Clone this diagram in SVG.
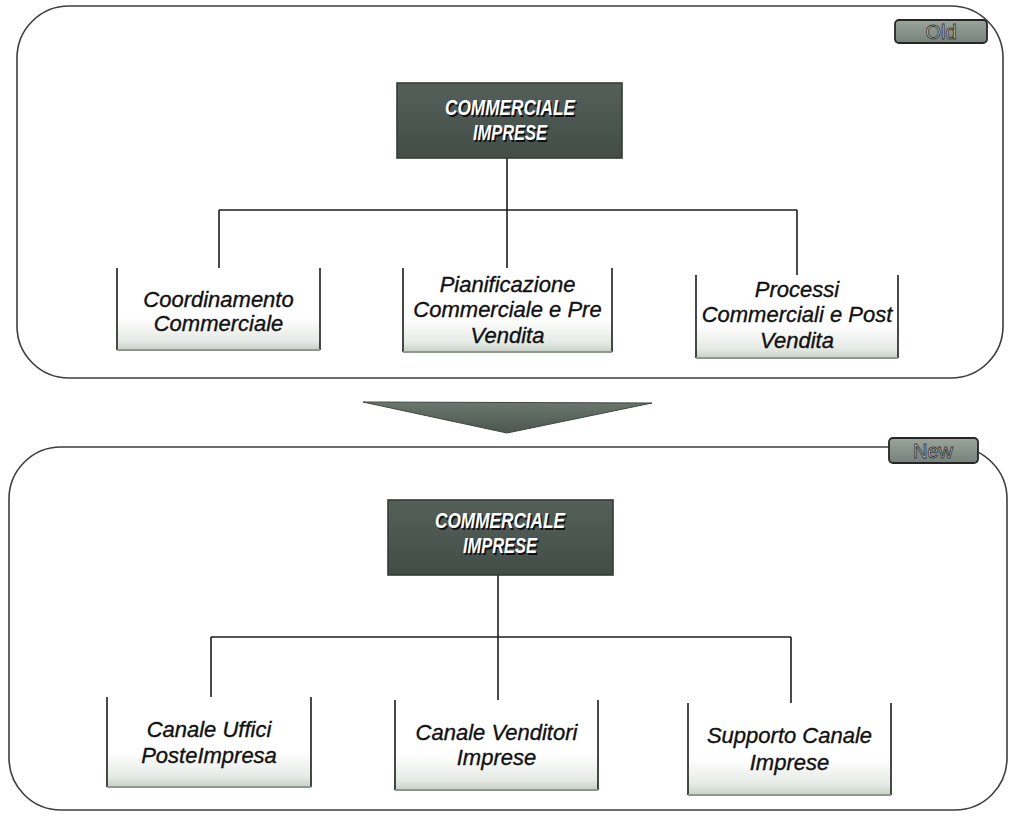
<svg xmlns="http://www.w3.org/2000/svg" width="1014" height="821" viewBox="0 0 1014 821">
<style>
.panel{fill:none;stroke:#3e3e3e;stroke-width:1.6}
.conn{fill:none;stroke:#1e1e1e;stroke-width:1.6}
.head{fill:url(#headG);stroke:#333b36;stroke-width:1.6}
.htxt{font-family:"Liberation Sans",Arial,sans-serif;font-weight:bold;font-style:italic;font-size:22px;fill:#ffffff;text-anchor:middle}
.hsh{font-family:"Liberation Sans",Arial,sans-serif;font-weight:bold;font-style:italic;font-size:22px;fill:#111;text-anchor:middle}
.cbox{fill:url(#childG)}
.side{stroke:#2a2a2a;stroke-width:1.7;fill:none}
.bot{stroke:#8f978f;stroke-width:2.2;fill:none}
.ctxt{font-family:"Liberation Sans",Arial,sans-serif;font-style:italic;font-size:22px;fill:#111;stroke:#111;stroke-width:0.35;text-anchor:middle}
.badge{fill:url(#badgeG);stroke:#262626;stroke-width:1.8}
.btxt{font-family:"Liberation Sans",Arial,sans-serif;font-size:20px;fill:#c9d1c9;stroke:#3a3a3a;stroke-width:0.9;text-anchor:middle}
</style>
<defs>
<linearGradient id="headG" x1="0" y1="0" x2="0" y2="1">
<stop offset="0" stop-color="#56605a"/>
<stop offset="1" stop-color="#434d47"/>
</linearGradient>
<linearGradient id="childG" x1="0" y1="0" x2="0" y2="1">
<stop offset="0" stop-color="#ffffff"/>
<stop offset="0.6" stop-color="#ffffff"/>
<stop offset="0.88" stop-color="#e6ebe6"/>
<stop offset="1" stop-color="#c8d0c8"/>
</linearGradient>
<linearGradient id="badgeG" x1="0" y1="0" x2="0" y2="1">
<stop offset="0" stop-color="#9aa59c"/>
<stop offset="1" stop-color="#75817a"/>
</linearGradient>
<linearGradient id="triG" x1="0" y1="0" x2="0" y2="1">
<stop offset="0" stop-color="#6a766e"/>
<stop offset="1" stop-color="#4c5750"/>
</linearGradient>
</defs>

<!-- panels -->
<rect id="panel-old" class="panel" x="17" y="6" width="986" height="372" rx="52" ry="52"/>
<rect id="panel-new" class="panel" x="9" y="447" width="998" height="363" rx="52" ry="52"/>

<!-- transition arrow -->
<polygon id="transition-arrow" points="363,402 652,403 507,433" fill="url(#triG)" stroke="#3c4540" stroke-width="1"/>

<!-- badges -->
<g id="badge-old">
<rect class="badge" x="895" y="20" width="92" height="23" rx="4"/>
<text class="btxt" x="941" y="39">Old</text>
</g>
<g id="badge-new">
<rect class="badge" x="889" y="438" width="89" height="25" rx="4"/>
<text class="btxt" x="933" y="458">New</text>
</g>

<!-- connectors -->
<g id="connectors">
<path class="conn" d="M507,158 V268 M219,210 H797 M219,210 V268 M797,210 V275"/>
<path class="conn" d="M498,575 V700 M211,637 H791 M211,637 V697 M791,637 V703"/>
</g>

<!-- OLD nodes -->
<g id="old-root">
<rect class="head" x="397" y="83" width="225" height="75"/>
<text class="hsh" x="511.5" y="116.5" textLength="130" lengthAdjust="spacingAndGlyphs">COMMERCIALE</text>
<text class="htxt" x="510" y="115" textLength="130" lengthAdjust="spacingAndGlyphs">COMMERCIALE</text>
<text class="hsh" x="511.5" y="141.5" textLength="74" lengthAdjust="spacingAndGlyphs">IMPRESE</text>
<text class="htxt" x="510" y="140" textLength="74" lengthAdjust="spacingAndGlyphs">IMPRESE</text>
</g>
<g id="old-coordinamento">
<rect class="cbox" x="117" y="268" width="203" height="82"/>
<path class="side" d="M117,268 V350 M320,268 V350"/>
<path class="bot" d="M117,350 H320"/>
<text class="ctxt" x="218.5" y="307">Coordinamento</text>
<text class="ctxt" x="218.5" y="331">Commerciale</text>
</g>
<g id="old-pianificazione">
<rect class="cbox" x="403" y="268" width="209" height="84"/>
<path class="side" d="M403,268 V352 M612,268 V352"/>
<path class="bot" d="M403,352 H612"/>
<text class="ctxt" x="507.5" y="292">Pianificazione</text>
<text class="ctxt" x="507.5" y="317">Commerciale e Pre</text>
<text class="ctxt" x="507.5" y="343">Vendita</text>
</g>
<g id="old-processi">
<rect class="cbox" x="696" y="275" width="202" height="83"/>
<path class="side" d="M696,275 V358 M898,275 V358"/>
<path class="bot" d="M696,358 H898"/>
<text class="ctxt" x="797" y="297">Processi</text>
<text class="ctxt" x="797" y="322">Commerciali e Post</text>
<text class="ctxt" x="797" y="348">Vendita</text>
</g>

<!-- NEW nodes -->
<g id="new-root">
<rect class="head" x="388" y="500" width="225" height="75"/>
<text class="hsh" x="501.5" y="529.5" textLength="130" lengthAdjust="spacingAndGlyphs">COMMERCIALE</text>
<text class="htxt" x="500" y="528" textLength="130" lengthAdjust="spacingAndGlyphs">COMMERCIALE</text>
<text class="hsh" x="501.5" y="554.5" textLength="74" lengthAdjust="spacingAndGlyphs">IMPRESE</text>
<text class="htxt" x="500" y="553" textLength="74" lengthAdjust="spacingAndGlyphs">IMPRESE</text>
</g>
<g id="new-uffici">
<rect class="cbox" x="107" y="697" width="204" height="90"/>
<path class="side" d="M107,697 V787 M311,697 V787"/>
<path class="bot" d="M107,787 H311"/>
<text class="ctxt" x="209" y="737">Canale Uffici</text>
<text class="ctxt" x="209" y="763">PosteImpresa</text>
</g>
<g id="new-venditori">
<rect class="cbox" x="395" y="700" width="203" height="90"/>
<path class="side" d="M395,700 V790 M598,700 V790"/>
<path class="bot" d="M395,790 H598"/>
<text class="ctxt" x="496.5" y="740">Canale Venditori</text>
<text class="ctxt" x="496.5" y="765">Imprese</text>
</g>
<g id="new-supporto">
<rect class="cbox" x="688" y="703" width="203" height="92"/>
<path class="side" d="M688,703 V795 M891,703 V795"/>
<path class="bot" d="M688,795 H891"/>
<text class="ctxt" x="789.5" y="743">Supporto Canale</text>
<text class="ctxt" x="789.5" y="770">Imprese</text>
</g>
</svg>
